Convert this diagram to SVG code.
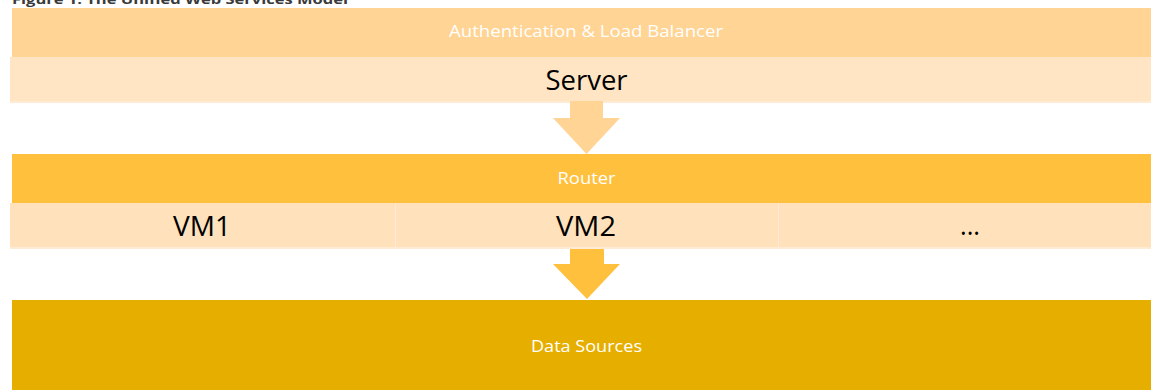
<svg xmlns="http://www.w3.org/2000/svg" width="1151" height="390" viewBox="0 0 1151 390">
  <style>
    .t { font-family: "Open Sans", "Liberation Sans", sans-serif; text-anchor: middle; }
    .white { fill: #ffffff; }
    .dark { fill: #000000; }
    .title { font-family: "Open Sans", "Liberation Sans", sans-serif; font-weight: bold; font-size: 13px; fill: #3a3a3a; }
  </style>
  <rect width="1151" height="390" fill="#ffffff"/>
  <text class="title" x="12" y="4" textLength="336" lengthAdjust="spacingAndGlyphs">Figure 1: The Unified Web Services Model</text>

  <g id="auth">
    <rect x="12" y="8" width="1139" height="49" fill="#FFD494"/>
    <text class="t white" x="586" y="37" font-size="16" textLength="274" lengthAdjust="spacingAndGlyphs">Authentication &amp; Load Balancer</text>
  </g>
  <g id="server">
    <rect x="10" y="57" width="1141" height="46" fill="#FFE5C3"/>
    <rect x="10" y="101" width="1141" height="2" fill="#FFEBD3"/>
    <text class="t dark" x="586.5" y="89.5" font-size="28" textLength="82" lengthAdjust="spacingAndGlyphs">Server</text>
  </g>
  <g id="router">
    <rect x="12" y="154" width="1139" height="49" fill="#FFC03D"/>
    <text class="t white" x="586.5" y="184" font-size="17" textLength="58" lengthAdjust="spacingAndGlyphs">Router</text>
  </g>
  <g id="vm1">
    <rect x="10" y="203" width="385" height="46" fill="#FFE2BC"/>
    <text class="t dark" x="202" y="235.5" font-size="28" textLength="58" lengthAdjust="spacingAndGlyphs">VM1</text>
  </g>
  <g id="vm2">
    <rect x="396" y="203" width="382" height="46" fill="#FFE2BC"/>
    <text class="t dark" x="586" y="235.5" font-size="28" textLength="60" lengthAdjust="spacingAndGlyphs">VM2</text>
  </g>
  <g id="vm-more">
    <rect x="779" y="203" width="372" height="46" fill="#FFE2BC"/>
    <text class="t dark" x="970" y="235" font-size="28" textLength="20" lengthAdjust="spacingAndGlyphs">...</text>
  </g>
  <g id="vm-dividers">
    <rect x="395" y="203" width="1" height="46" fill="#FFEBD3"/>
    <rect x="778" y="203" width="1" height="46" fill="#FFEBD3"/>
    <rect x="10" y="247" width="1141" height="2" fill="#FFEBD3"/>
  </g>
  <g id="data-sources">
    <rect x="12" y="300" width="1139" height="90" fill="#E6AF00"/>
    <text class="t white" x="586.5" y="351.5" font-size="17" textLength="111" lengthAdjust="spacingAndGlyphs">Data Sources</text>
  </g>

  <g id="connectors">
    <polygon points="570,101 603,101 603,118 620,118 586.5,154 553,118 570,118" fill="#FFD494"/>
    <polygon points="570,249 604,249 604,264 620,264 587,299 553,264 570,264" fill="#FFC03D"/>
  </g>
</svg>
